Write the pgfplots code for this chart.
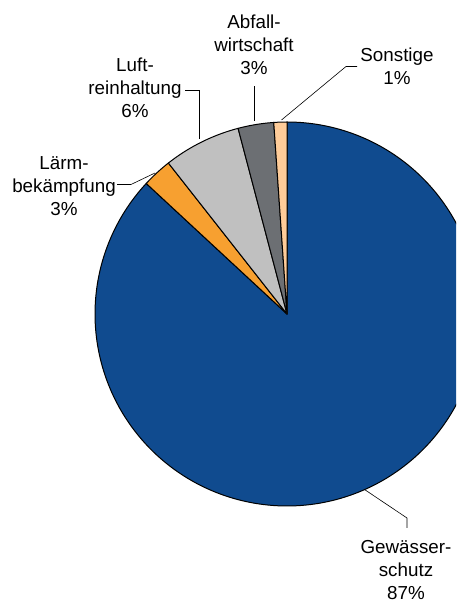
\documentclass[border=0pt]{standalone}
\usepackage{pgfplots}
\pgfplotsset{compat=1.18}
\usepackage{fontspec}
\setmainfont{Liberation Sans}
\definecolor{cBlue}{RGB}{16,75,143}
\definecolor{cOrange}{RGB}{247,160,48}
\definecolor{cLight}{RGB}{192,192,192}
\definecolor{cDark}{RGB}{108,111,115}
\definecolor{cPeach}{RGB}{255,204,153}
% shares in percent (clockwise from 12 o'clock)
\def\vGew{86.9}
\def\vLaerm{2.5}
\def\vLuft{6.5}
\def\vAbf{3.0}
\def\vSon{1.1}
\begin{document}
\begin{tikzpicture}
\pgfmathsetmacro\aA{90-3.6*\vGew}
\pgfmathsetmacro\aB{\aA-3.6*\vLaerm}
\pgfmathsetmacro\aC{\aB-3.6*\vLuft}
\pgfmathsetmacro\aD{\aC-3.6*\vAbf}
\pgfmathsetmacro\aE{\aD-3.6*\vSon}
\begin{axis}[
  name=ax,
  width=456pt, height=605pt, scale only axis,
  xmin=0, xmax=456, ymin=0, ymax=605,
  hide axis, clip=true,
  every axis plot/.append style={draw=black, line width=1pt, line join=round},
]
\addplot[fill=cBlue, domain=\aA:90, samples=240, variable=\t]
  ({287+192*cos(\t)},{291+192*sin(\t)}) -- (axis cs:287,291) -- cycle;
\addplot[fill=cOrange, domain=\aB:\aA, samples=12, variable=\t]
  ({287+192*cos(\t)},{291+192*sin(\t)}) -- (axis cs:287,291) -- cycle;
\addplot[fill=cLight, domain=\aC:\aB, samples=24, variable=\t]
  ({287+192*cos(\t)},{291+192*sin(\t)}) -- (axis cs:287,291) -- cycle;
\addplot[fill=cDark, domain=\aD:\aC, samples=12, variable=\t]
  ({287+192*cos(\t)},{291+192*sin(\t)}) -- (axis cs:287,291) -- cycle;
\addplot[fill=cPeach, domain=\aE:\aD, samples=6, variable=\t]
  ({287+192*cos(\t)},{291+192*sin(\t)}) -- (axis cs:287,291) -- cycle;

% leader lines
\draw[black, line width=0.6pt] (axis cs:281.5,485) -- (axis cs:346,538.5) -- (axis cs:357,538.5);
\draw[black, line width=0.6pt] (axis cs:254.5,484) -- (axis cs:254.5,519);
\draw[black, line width=0.6pt] (axis cs:199,466) -- (axis cs:199,514.3) -- (axis cs:185,514.3);
\draw[black, line width=0.6pt] (axis cs:155,432) -- (axis cs:131,420.5) -- (axis cs:117,420.5);
\draw[black, line width=0.6pt] (axis cs:364.5,115.5) -- (axis cs:407,87) -- (axis cs:407,77);

% labels
\begin{scope}[every node/.style={anchor=base, inner sep=0pt, font=\fontsize{18.8}{22.5}\selectfont}]
\node at (axis cs:397,543.5) {Sonstige};
\node at (axis cs:397,520.5) {1\%};
\node at (axis cs:254,576) {Abfall-};
\node at (axis cs:254,553) {wirtschaft};
\node at (axis cs:254,530) {3\%};
\node at (axis cs:135,533.5) {Luft-};
\node at (axis cs:135,510.5) {reinhaltung};
\node at (axis cs:135,487.5) {6\%};
\node at (axis cs:64,435) {Lärm-};
\node at (axis cs:64,412) {bekämpfung};
\node at (axis cs:64,389) {3\%};
\node at (axis cs:406,51.5) {Gewässer-};
\node at (axis cs:406,28.5) {schutz};
\node at (axis cs:406,5.5) {87\%};
\end{scope}
\end{axis}
\pgfresetboundingbox
\path[use as bounding box] (ax.south west) rectangle (ax.north east);
\end{tikzpicture}
\end{document}
